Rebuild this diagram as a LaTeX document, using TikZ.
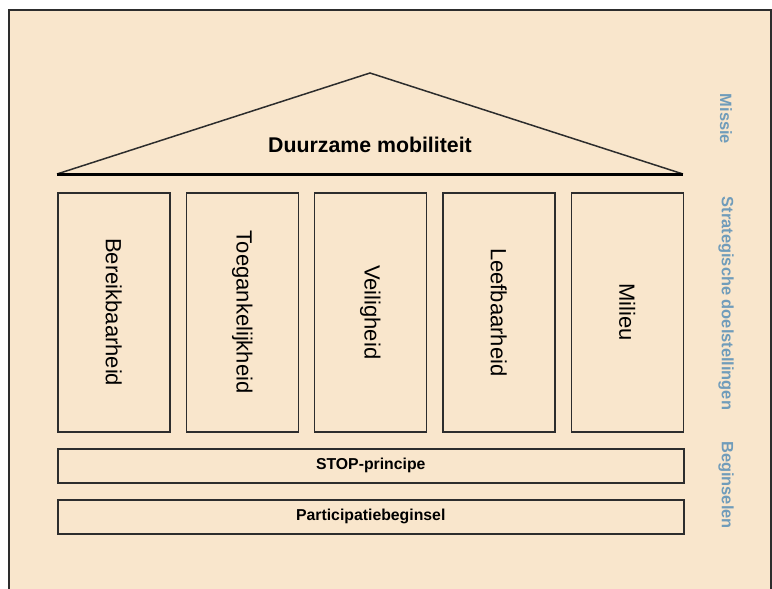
\documentclass[tikz,border=0pt]{standalone}
\usepackage{fontspec}
\setmainfont{Liberation Sans}
\definecolor{peach}{RGB}{249,230,204}
\definecolor{framegray}{RGB}{45,45,45}
\definecolor{labelblue}{RGB}{112,156,186}
\begin{document}
\begin{tikzpicture}[x=1pt,y=-1pt,
  pillar/.style={draw=framegray,line width=1.5pt,minimum width=112pt,minimum height=239pt,inner sep=0pt,anchor=north west},
  pillartext/.style={rotate=-90,font=\fontsize{22}{24}\selectfont},
  band/.style={draw=framegray,line width=1.5pt,minimum width=626pt,minimum height=34pt,inner sep=0pt,anchor=north west,font=\fontsize{15.8}{18}\selectfont\bfseries},
  sidelabel/.style={rotate=-90,text=labelblue,font=\fontsize{16.4}{18}\selectfont\bfseries}]
\useasboundingbox (0,0) rectangle (772,589);
\fill[white] (0,0) rectangle (772,589);
\fill[peach] (9,10) rectangle (771,600);
\draw[framegray,line width=2pt] (9,600) -- (9,10) -- (771,10) -- (771,600);
% roof
\coordinate (rl) at (57,174);
\coordinate (rt) at (370,73);
\coordinate (rr) at (683,174);
\draw[framegray,line width=1.5pt,line join=miter] (rl) -- (rt) -- (rr);
\draw[black,line width=3pt] (rl) -- (rr);
\node[font=\fontsize{21.3}{24}\selectfont\bfseries] (mission) at (370,145) {Duurzame mobiliteit};
% pillars
\node[pillar] (p1) at (57,192) {};
\node[pillar] (p2) at (185.5,192) {};
\node[pillar] (p3) at (313.5,192) {};
\node[pillar] (p4) at (442,192) {};
\node[pillar] (p5) at (570.5,192) {};
\node[pillartext] at (p1.center) {Bereikbaarheid};
\node[pillartext] at (p2.center) {Toegankelijkheid};
\node[pillartext] at (p3.center) {Veiligheid};
\node[pillartext] at (p4.center) {Leefbaarheid};
\node[pillartext] at (p5.center) {Milieu};
% bands
\node[band] (stop) at (57,448) {STOP-principe};
\node[band] (part) at (57,499) {Participatiebeginsel};
% side labels
\node[sidelabel] (l1) at (726,119) {Missie};
\node[sidelabel] (l2) at (726,303.5) {Strategische doelstellingen};
\node[sidelabel] (l3) at (726,485) {Beginselen};
\end{tikzpicture}
\end{document}
